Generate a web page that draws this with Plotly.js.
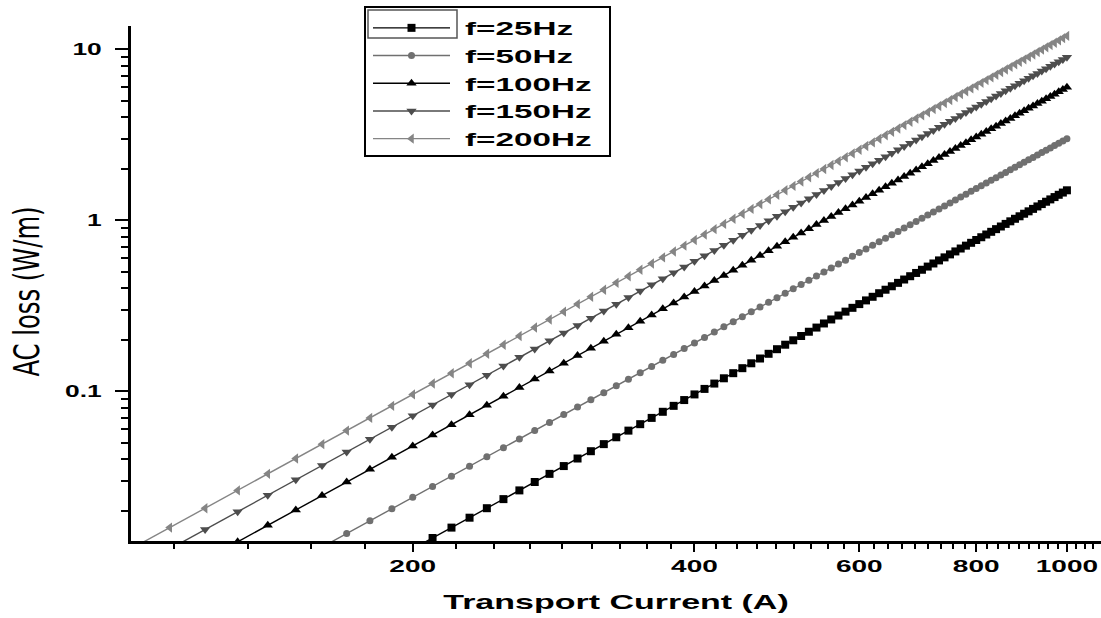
<!DOCTYPE html>
<html><head><meta charset="utf-8">
<script src="https://cdn.plot.ly/plotly-3.0.1.min.js"></script>
<style>html,body{margin:0;padding:0;background:#fff;} #chart{width:1101px;height:618px;}</style>
</head><body><div id="chart"></div>
<script>
const current = [100,110,120,130,140,150,160,170,180,190,
200,210,220,230,240,250,260,270,280,290,
300,310,320,330,340,350,360,370,380,390,
400,410,420,430,440,450,460,470,480,490,
500,510,520,530,540,550,560,570,580,590,
600,610,620,630,640,650,660,670,680,690,
700,710,720,730,740,750,760,770,780,790,
800,810,820,830,840,850,860,870,880,890,
900,910,920,930,940,950,960,970,980,990,1000];

const loss25 = [0.0015,0.001997,0.002592,0.003296,0.004116,0.005063,0.006144,0.00737,0.008748,0.01029,
0.012,0.01389,0.01597,0.01825,0.02074,0.02344,0.02636,0.02952,0.03293,0.03658,
0.0405,0.04469,0.04915,0.05391,0.05896,0.06431,0.06998,0.07598,0.08231,0.08898,
0.096,0.1034,0.1111,0.1193,0.1278,0.1367,0.146,0.1557,0.1659,0.1765,
0.1875,0.199,0.2109,0.2233,0.2362,0.2496,0.2634,0.2778,0.2927,0.3081,
0.324,0.3405,0.3575,0.3751,0.3932,0.4119,0.4312,0.4511,0.4716,0.4928,
0.5145,0.5369,0.5599,0.5835,0.6078,0.6328,0.6585,0.6848,0.7118,0.7396,
0.768,0.7972,0.8271,0.8577,0.8891,0.9212,0.9541,0.9878,1.022,1.057,
1.094,1.13,1.168,1.207,1.246,1.286,1.327,1.369,1.412,1.455,1.5];

const loss50 = [0.003,0.003993,0.005184,0.006591,0.008232,0.01013,0.01229,0.01474,0.0175,0.02058,
0.024,0.02778,0.03194,0.0365,0.04147,0.04688,0.05273,0.05905,0.06586,0.07317,
0.081,0.08937,0.0983,0.1078,0.1179,0.1286,0.14,0.152,0.1646,0.178,
0.192,0.2068,0.2223,0.2385,0.2556,0.2734,0.292,0.3115,0.3318,0.3529,
0.375,0.398,0.4218,0.4466,0.4724,0.4991,0.5268,0.5556,0.5853,0.6161,
0.648,0.6809,0.715,0.7501,0.7864,0.8239,0.8625,0.9023,0.9433,0.9855,
1.029,1.074,1.12,1.167,1.216,1.266,1.317,1.37,1.424,1.479,
1.536,1.594,1.654,1.715,1.778,1.842,1.908,1.976,2.044,2.115,
2.187,2.261,2.336,2.413,2.492,2.572,2.654,2.738,2.824,2.911,3.0];

const loss100 = [0.006,0.007986,0.01037,0.01318,0.01646,0.02025,0.02458,0.02948,0.03499,0.04115,
0.048,0.05557,0.06389,0.073,0.08294,0.09375,0.1055,0.1181,0.1317,0.1463,
0.162,0.1787,0.1966,0.2156,0.2358,0.2573,0.2799,0.3039,0.3292,0.3559,
0.384,0.4135,0.4445,0.477,0.5111,0.5468,0.584,0.6229,0.6636,0.7059,
0.75,0.7959,0.8436,0.8933,0.9448,0.9983,1.054,1.111,1.171,1.232,
1.296,1.362,1.43,1.5,1.573,1.648,1.725,1.805,1.887,1.971,
2.058,2.147,2.239,2.334,2.431,2.531,2.634,2.739,2.847,2.958,
3.072,3.189,3.308,3.431,3.556,3.685,3.816,3.951,4.089,4.23,
4.374,4.521,4.672,4.826,4.984,5.144,5.308,5.476,5.647,5.822,6.0];

const loss150 = [0.009,0.01198,0.01555,0.01977,0.0247,0.03038,0.03686,0.04422,0.05249,0.06173,
0.072,0.08335,0.09583,0.1095,0.1244,0.1406,0.1582,0.1771,0.1976,0.2195,
0.243,0.2681,0.2949,0.3234,0.3537,0.3859,0.4199,0.4559,0.4938,0.5339,
0.576,0.6203,0.6668,0.7156,0.7667,0.8201,0.876,0.9344,0.9953,1.059,
1.125,1.194,1.265,1.34,1.417,1.497,1.581,1.667,1.756,1.848,
1.944,2.043,2.145,2.25,2.359,2.472,2.587,2.707,2.83,2.957,
3.087,3.221,3.359,3.501,3.647,3.797,3.951,4.109,4.271,4.437,
4.608,4.783,4.962,5.146,5.334,5.527,5.725,5.927,6.133,6.345,
6.561,6.782,7.008,7.239,7.475,7.716,7.963,8.214,8.471,8.733,9.0];

const loss200 = [0.012,0.01597,0.02074,0.02636,0.03293,0.0405,0.04915,0.05896,0.06998,0.08231,
0.096,0.1111,0.1278,0.146,0.1659,0.1875,0.2109,0.2362,0.2634,0.2927,
0.324,0.3575,0.3932,0.4312,0.4716,0.5145,0.5599,0.6078,0.6585,0.7118,
0.768,0.8271,0.8891,0.9541,1.022,1.094,1.168,1.246,1.327,1.412,
1.5,1.592,1.687,1.787,1.89,1.997,2.107,2.222,2.341,2.465,
2.592,2.724,2.86,3.001,3.146,3.296,3.45,3.609,3.773,3.942,
4.116,4.295,4.479,4.668,4.863,5.063,5.268,5.478,5.695,5.916,
6.144,6.377,6.616,6.861,7.112,7.37,7.633,7.902,8.178,8.46,
8.748,9.043,9.344,9.652,9.967,10.29,10.62,10.95,11.29,11.64,12.0];

const seriesNames = ['f=25Hz','f=50Hz','f=100Hz','f=150Hz','f=200Hz'];
const xTickVals = [200,400,600,800,1000];
const xTickText = ['200','400','600','800','1000'];
const yTickVals = [0.1,1,10];
const yTickText = ['0.1','1','10'];

const allLoss = [loss25, loss50, loss100, loss150, loss200];
const styles = [
  {color:'#000000', symbol:'square', size:8},
  {color:'#707070', symbol:'circle', size:7},
  {color:'#000000', symbol:'triangle-up', size:9},
  {color:'#4d4d4d', symbol:'triangle-down', size:9},
  {color:'#858585', symbol:'triangle-left', size:9}
];

const traces = allLoss.map((ys, i) => ({
  x: current, y: ys, name: seriesNames[i], type: 'scatter', mode: 'lines+markers',
  line: {color: styles[i].color, width: 1.4},
  marker: {symbol: styles[i].symbol, size: styles[i].size, color: styles[i].color}
}));

// minor tick positions (styling only)
const xMinor = [];
for (let k = 4; k <= 49; k++) xMinor.push(k * 200 / 9);
const yMinor = [];
for (let e = -2; e <= 1; e++) for (let d = 2; d <= 9; d++) yMinor.push(d * Math.pow(10, e));

const L = 131, T = 26, W = 970, H = 515;
const px = v => (v - L) / W;
const py = v => (T + H - v) / H;

const layout = {
  width: 1101, height: 618,
  margin: {l: L, r: 0, t: T, b: 618 - T - H, pad: 0},
  paper_bgcolor: '#fff', plot_bgcolor: '#fff',
  font: {family: 'Liberation Sans, Arial, sans-serif', color: '#000'},
  showlegend: true,
  legend: {x: px(368), y: py(9), xanchor: 'left', yanchor: 'top', bgcolor: 'rgba(0,0,0,0)',
    borderwidth: 0, itemwidth: 87, font: {size: 19, weight: 'bold', color: '#000'}, tracegroupgap: 0},
  xaxis: {type: 'log', range: [2, 3.0364], tickmode: 'array', tickvals: xTickVals, ticktext: xTickText,
    ticks: 'outside', ticklen: 8, tickwidth: 2, tickcolor: '#000', showline: true, linewidth: 3,
    linecolor: '#000', showgrid: false, zeroline: false, tickfont: {size: 17, weight: 'bold'},
    minor: {tickmode: 'array', tickvals: xMinor, ticks: 'outside', ticklen: 5, tickwidth: 2, tickcolor: '#000', showgrid: false},
    title: {text: 'Transport Current (A)', font: {size: 20, weight: 'bold'}, standoff: 20}},
  yaxis: {type: 'log', range: [-1.875, 1.137], tickmode: 'array', tickvals: yTickVals, ticktext: yTickText,
    ticks: 'outside', ticklen: 13, tickwidth: 2, tickcolor: '#000', showline: true, linewidth: 3,
    linecolor: '#000', showgrid: false, zeroline: false, tickfont: {size: 16, weight: 'bold'},
    ticklabelstandoff: 10,
    minor: {tickmode: 'array', tickvals: yMinor, ticks: 'outside', ticklen: 7, tickwidth: 2, tickcolor: '#000', showgrid: false},
    title: {text: 'AC loss (W/m)', font: {size: 27, family: 'Liberation Sans Narrow, DejaVu Sans Condensed, Liberation Sans, sans-serif'}, standoff: 33}},
  shapes: [
    {type: 'rect', xref: 'paper', yref: 'paper', x0: px(365), x1: px(610), y0: py(156), y1: py(7),
      line: {color: '#000', width: 2}, fillcolor: 'rgba(0,0,0,0)'},
    {type: 'rect', xref: 'paper', yref: 'paper', x0: px(368), x1: px(457), y0: py(38), y1: py(10),
      line: {color: '#555', width: 1.5}, fillcolor: 'rgba(0,0,0,0)'}
  ]
};

function stretch(el, sx, sy) {
  const x = parseFloat(el.getAttribute('x')) || 0;
  const y = parseFloat(el.getAttribute('y')) || 0;
  const t = el.getAttribute('transform') || '';
  el.setAttribute('transform', t + ' translate(' + x + ',' + y + ') scale(' + sx + ',' + sy + ') translate(' + (-x) + ',' + (-y) + ')');
}

Plotly.newPlot('chart', traces, layout, {staticPlot: true}).then(gd => {
  gd.querySelectorAll('.xtick text, .ytick text').forEach(el => stretch(el, 1.65, 1));
  gd.querySelectorAll('.legendtext').forEach(el => stretch(el, 1.75, 1));
  gd.querySelectorAll('.xtitle').forEach(el => stretch(el, 1.7, 1));
  gd.querySelectorAll('.ytitle').forEach(el => {
    stretch(el, 1, 1.3);
    el.setAttribute('transform', 'translate(0,8) ' + el.getAttribute('transform'));
  });
  gd.querySelectorAll('.legend [clip-path]').forEach(el => el.removeAttribute('clip-path'));
  gd.querySelectorAll('.legend .legendlines path').forEach(p => p.setAttribute('d', 'M5,0h77'));
  gd.querySelectorAll('.legend .legendpoints path.scatterpts').forEach(p => p.setAttribute('transform', 'translate(43.5,0)'));
});
</script>
</body></html>
